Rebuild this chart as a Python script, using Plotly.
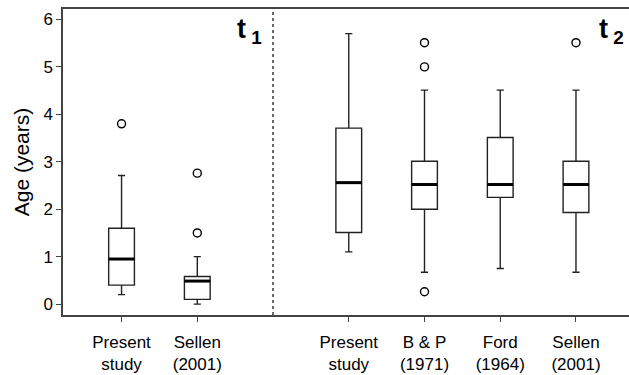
import plotly.graph_objects as go

# Data
tick_labels = ["Present<br>study", "Sellen<br>(2001)", "Present<br>study", "B & P<br>(1971)", "Ford<br>(1964)", "Sellen<br>(2001)"]
positions = [1, 2, 4, 5, 6, 7]
lower_whisker = [0.20, 0.00, 1.10, 0.67, 0.75, 0.67]
q1_vals = [0.40, 0.10, 1.51, 2.00, 2.25, 1.93]
median_vals = [0.95, 0.485, 2.56, 2.52, 2.52, 2.52]
q3_vals = [1.60, 0.58, 3.71, 3.01, 3.51, 3.01]
upper_whisker = [2.71, 1.00, 5.70, 4.51, 4.51, 4.51]
outliers = [[3.80], [1.50, 2.76], [], [5.51, 5.00, 0.26], [], [5.51]]
separator_pos = 3

BOX_W = 0.34
FONT = "Arial, 'Liberation Sans', sans-serif"

fig = go.Figure()
for i, p in enumerate(positions):
    fig.add_trace(go.Box(
        x=[p], q1=[q1_vals[i]], median=[median_vals[i]], q3=[q3_vals[i]],
        lowerfence=[lower_whisker[i]], upperfence=[upper_whisker[i]],
        width=BOX_W, whiskerwidth=0.28, boxpoints=False,
        fillcolor="white", line=dict(color="#222222", width=1.4),
        showlegend=False, hoverinfo="skip"))
    # thick median
    fig.add_trace(go.Scatter(
        x=[p - BOX_W / 2, p + BOX_W / 2], y=[median_vals[i], median_vals[i]],
        mode="lines", line=dict(color="black", width=3),
        showlegend=False, hoverinfo="skip"))
    if outliers[i]:
        fig.add_trace(go.Scatter(
            x=[p] * len(outliers[i]), y=outliers[i], mode="markers",
            marker=dict(symbol="circle-open", size=8, color="black", line=dict(width=1.4)),
            showlegend=False, hoverinfo="skip"))

fig.add_shape(type="line", xref="x", yref="paper", x0=separator_pos, x1=separator_pos,
              y0=0, y1=1, line=dict(color="black", width=1.2, dash="dot"))

fig.add_annotation(xref="paper", yref="paper", x=0.356, y=0.99, xanchor="right", yanchor="top",
                   text="<b>t</b><b><sub> 1</sub></b>", showarrow=False,
                   font=dict(family=FONT, size=27, color="black"))
fig.add_annotation(xref="paper", yref="paper", x=0.994, y=0.99, xanchor="right", yanchor="top",
                   text="<b>t</b><b><sub> 2</sub></b>", showarrow=False,
                   font=dict(family=FONT, size=27, color="black"))

fig.update_layout(
    width=629, height=375,
    margin=dict(l=63, r=0, t=9, b=60),
    plot_bgcolor="white", paper_bgcolor="white",
    font=dict(family=FONT, size=17, color="black"),
    xaxis=dict(range=[0.227, 7.70], tickvals=positions, ticktext=tick_labels,
               showline=True, linecolor="#444444", linewidth=1.5, mirror=True,
               ticks="outside", ticklen=5, tickcolor="#444444", showgrid=False, zeroline=False,
               ticklabelstandoff=6, tickfont=dict(size=17)),
    yaxis=dict(range=[-0.23, 6.22], tickvals=[0, 1, 2, 3, 4, 5, 6],
               showline=True, linecolor="#444444", linewidth=1.5,
               ticks="outside", ticklen=5, tickcolor="#444444", showgrid=False, zeroline=False,
               title=dict(text="Age (years)", font=dict(size=21), standoff=8),
               tickfont=dict(size=17)),
)

fig.write_html("out.html", config={"displayModeBar": False},
               post_script="document.body.style.margin='0';")
